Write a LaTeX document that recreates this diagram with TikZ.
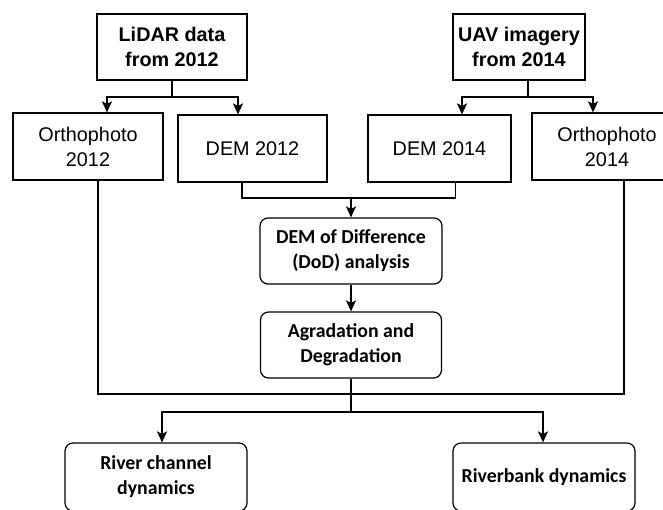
\documentclass[tikz,border=0pt]{standalone}
\usepackage{fontspec}
\setmainfont{Liberation Sans}
\newfontfamily\carlito{Carlito}
\usetikzlibrary{arrows.meta}

\tikzset{
  box/.style={draw=black,line width=1.2pt,align=center,inner sep=0pt,
    font=\fontsize{19.8}{25}\selectfont},
  topbox/.style={box,font=\bfseries\fontsize{19.8}{25}\selectfont},
  rbox/.style={box,rounded corners=8pt,font=\carlito\bfseries\fontsize{19.8}{25}\selectfont},
  arrow/.style={line width=1.2pt,-{Stealth[length=11pt,width=10pt,inset=2.5pt]}},
  link/.style={line width=1.2pt}
}

\begin{document}
\begin{tikzpicture}[x=1pt,y=-1pt]

  \clip (0,0) rectangle (663,509);

  % Data sources
  \node[topbox,minimum width=150,minimum height=66] (lidar) at (172,47) {LiDAR data\\from 2012};
  \node[topbox,minimum width=132,minimum height=66] (uav) at (519,47) {UAV imagery\\from 2014};

  % Products
  \node[box,minimum width=150,minimum height=67] (ortho12) at (88,146.5) {Orthophoto\\2012};
  \node[box,minimum width=149,minimum height=67] (dem12) at (252.5,148.5) {DEM 2012};
  \node[box,minimum width=143,minimum height=67] (dem14) at (439.5,148.5) {DEM 2014};
  \node[box,minimum width=150,minimum height=67] (ortho14) at (607,146.5) {Orthophoto\\2014};

  % Analysis
  \node[rbox,minimum width=182,minimum height=66] (dod) at (351,251) {DEM of Difference\\(DoD) analysis};
  \node[rbox,minimum width=181,minimum height=66] (agr) at (351,345) {Agradation and\\Degradation};

  % Results
  \node[rbox,minimum width=182,minimum height=68] (river) at (156,477) {River channel\\dynamics};
  \node[rbox,minimum width=182,minimum height=68] (bank) at (544,477) {Riverbank dynamics};

  % Junction points
  \coordinate (j1) at (172,97);
  \coordinate (j2) at (528,97);
  \coordinate (m1) at (351,198);
  \coordinate (b1) at (351,394);
  \coordinate (b2) at (351,412);

  % Sources to products
  \draw[link] (lidar.south) -- (j1);
  \draw[arrow] (j1) -| ([xshift=19pt]ortho12.north);
  \draw[arrow] (j1) -| ([xshift=-14.5pt]dem12.north);
  \draw[link] ([xshift=9pt]uav.south) -- (j2);
  \draw[arrow] (j2) -| ([xshift=22.5pt]dem14.north);
  \draw[arrow] (j2) -| ([xshift=-14pt]ortho14.north);

  % DEMs to DoD
  \draw[link] ([xshift=-10.5pt]dem12.south) |- (m1) -| ([xshift=16pt]dem14.south);
  \draw[arrow] (m1) -- (dod.north);
  \draw[arrow] (dod.south) -- (agr.north);

  % Orthophotos and DoD to results
  \draw[link] ([xshift=10pt]ortho12.south) |- (b1) -| ([xshift=17pt]ortho14.south);
  \draw[link] (agr.south) -- (b2);
  \draw[arrow] (b2) -| ([xshift=6pt]river.north);
  \draw[arrow] (b2) -| ([xshift=-1pt]bank.north);

\end{tikzpicture}
\end{document}
